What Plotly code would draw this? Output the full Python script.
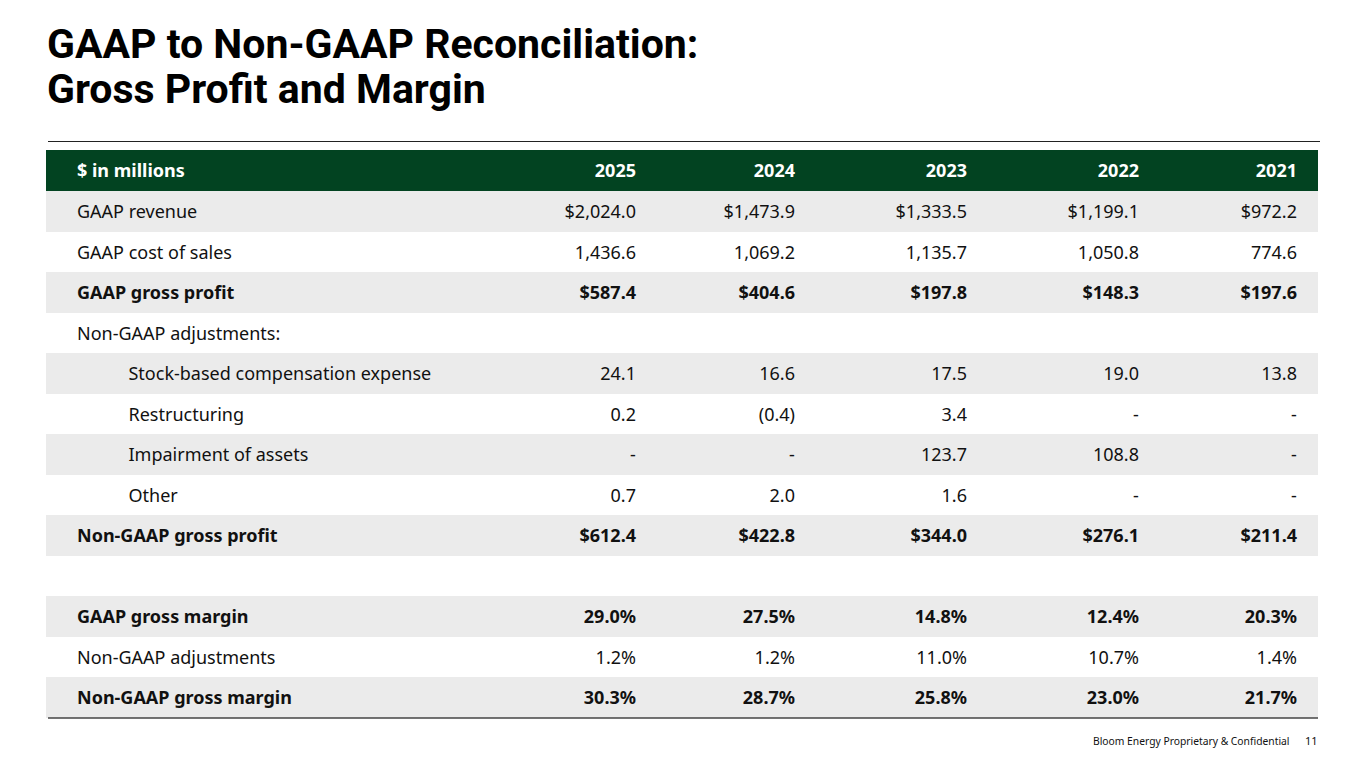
import plotly.graph_objects as go

# Table contents
row_labels = ["GAAP revenue", "GAAP cost of sales", "GAAP gross profit",
              "Non-GAAP adjustments:", "Stock-based compensation expense",
              "Restructuring", "Impairment of assets", "Other",
              "Non-GAAP gross profit", "", "GAAP gross margin",
              "Non-GAAP adjustments", "Non-GAAP gross margin"]
years = ["2025", "2024", "2023", "2022", "2021"]
v2025 = ["$2,024.0", "1,436.6", "$587.4", "", "24.1", "0.2", "-", "0.7",
         "$612.4", "", "29.0%", "1.2%", "30.3%"]
v2024 = ["$1,473.9", "1,069.2", "$404.6", "", "16.6", "(0.4)", "-", "2.0",
         "$422.8", "", "27.5%", "1.2%", "28.7%"]
v2023 = ["$1,333.5", "1,135.7", "$197.8", "", "17.5", "3.4", "123.7", "1.6",
         "$344.0", "", "14.8%", "11.0%", "25.8%"]
v2022 = ["$1,199.1", "1,050.8", "$148.3", "", "19.0", "-", "108.8", "-",
         "$276.1", "", "12.4%", "10.7%", "23.0%"]
v2021 = ["$972.2", "774.6", "$197.6", "", "13.8", "-", "-", "-",
         "$211.4", "", "20.3%", "1.4%", "21.7%"]
bold_rows = [2, 8, 10, 12]
indent_rows = [4, 5, 6, 7]

GREEN = "#024321"
GREY = "#ebebeb"
W, H = 1365, 768
OFF = 8  # the page body adds an 8px margin


def px(x):
    return (x - OFF) / W


def py(y):
    return 1 - (y - OFF) / H


def fmt(values):
    # every cell gets markup so plotly lays them all out the same way
    out = []
    for i, v in enumerate(values):
        if i in indent_rows:
            v = "\u00a0" * 11 + v
        if i in bold_rows:
            v = "<b>" + v + "</b>"
        else:
            v = "<span>" + v + "</span>"
        out.append(v)
    return out


n = len(row_labels)
blank = ["<span></span>"] * n
columns = [blank, fmt(row_labels)] + [fmt(v) for v in (v2025, v2024, v2023, v2022, v2021)] + [blank]
row_fill = [GREY if i % 2 == 0 else "white" for i in range(n)]

header_vals = ["", "<b>$ in millions</b>"] + ["<b>" + y + "</b>" for y in years] + [""]
aligns = ["left", "left"] + ["right"] * 6

fig = go.Figure(go.Table(
    domain=dict(x=[px(46), px(1318)], y=[0, py(150)]),
    columnwidth=[23, 415, 160, 159, 172, 172, 158, 13],
    header=dict(values=header_vals,
                fill_color=GREEN, line_width=0, height=41,
                align=aligns,
                font=dict(family="Noto Sans, Arial", size=18, color="white")),
    cells=dict(values=columns,
               fill_color=[row_fill] * len(columns), line_width=0, height=40.5,
               align=aligns,
               font=dict(family="Noto Sans, Arial", size=18, color="#111111")),
))

# rules above and below the table
fig.add_shape(type="line", xref="paper", yref="paper",
              x0=px(48), x1=px(1320), y0=py(141.5), y1=py(141.5),
              line=dict(color="#222222", width=1.2))
fig.add_shape(type="line", xref="paper", yref="paper",
              x0=px(48), x1=px(1318), y0=py(718), y1=py(718),
              line=dict(color="#444444", width=1.5))

title_font = dict(family="Roboto, Arial", size=41, color="#000000")
fig.add_annotation(text="<b>GAAP to Non-GAAP Reconciliation:</b>", xref="paper", yref="paper",
                   x=px(45), y=py(44), xanchor="left", yanchor="middle",
                   showarrow=False, font=title_font)
fig.add_annotation(text="<b>Gross Profit and Margin</b>", xref="paper", yref="paper",
                   x=px(45), y=py(88.5), xanchor="left", yanchor="middle",
                   showarrow=False, font=title_font)

fig.add_annotation(text="Bloom Energy Proprietary & Confidential", xref="paper", yref="paper",
                   x=px(1291), y=py(741), xanchor="right", yanchor="middle",
                   showarrow=False, font=dict(family="Noto Sans, Arial", size=10.3, color="#111111"))
fig.add_annotation(text="11", xref="paper", yref="paper",
                   x=px(1320), y=py(740), xanchor="right", yanchor="middle",
                   showarrow=False, font=dict(family="Noto Sans, Arial", size=11, color="#111111"))

fig.update_layout(width=W, height=H, margin=dict(l=0, r=0, t=0, b=0),
                  paper_bgcolor="white", plot_bgcolor="white", showlegend=False)

fig.write_html("out.html")
